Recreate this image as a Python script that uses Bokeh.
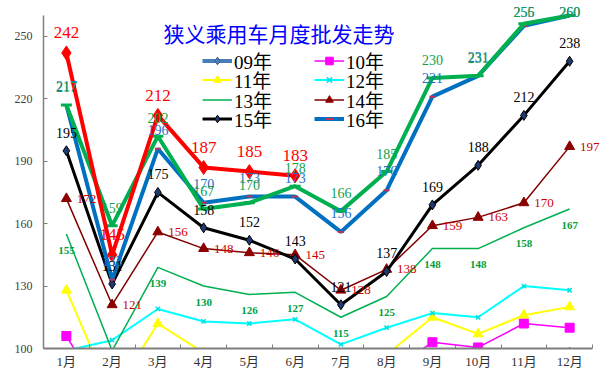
from bokeh.plotting import figure
from bokeh.models import (ColumnDataSource, Legend, LegendItem,
                          FixedTicker, Label, Range1d)
from bokeh.embed import file_html
from bokeh.resources import INLINE

months = ["1月", "2月", "3月", "4月", "5月", "6月",
          "7月", "8月", "9月", "10月", "11月", "12月"]
y_ticks = [100, 130, 160, 190, 220, 250]

y09 = [59, 62, 77, 80, 77, 83, 80, 81, 95, 96, 94, 98]
y10 = [106, 70, 90, 85, 82, 82, 75, 88, 103, 100.5, 112, 110]
y11 = [128, 77, 112, 98, 95, 94, 88, 97, 115, 107, 116, 120]
y12 = [99, 104, 119, 113, 112, 114, 102, 110, 117, 115, 130, 128]
y13 = [155, 99, 139, 130, 126, 127, 115, 125, 148, 148, 158, 167]
y14 = [172, 121, 156, 148, 146, 145, 128, 138, 159, 163, 170, 197]
y15 = [195, 131, 175, 158, 152, 143, 121, 137, 169, 188, 212, 238]
y16 = [217, 133, 196, 170, 173, 173, 156, 176, 221, 231, 255, 260]
y_green = [217, 159, 202, 167, 170, 178, 166, 185, 230, 231, 256, 260]
y_red = [242, 145, 212, 187, 185, 183]

xs = list(range(1, len(months) + 1))
Y_MIN, Y_MAX = 100, 260
X_MIN, X_MAX = 0.5, len(months) + 0.5

SERIF = "Liberation Serif, Noto Sans CJK SC"

# layout (pixels): visible axes span x 43..592, y 15..348
W, H = 606, 371
AX_L, AX_R, AX_T, AX_B = 43, 592, 15, 348
BL, BR, BT, BB = AX_L, 6, 3, H - AX_B
PX_X = (AX_R - AX_L) / (X_MAX - X_MIN)
PX_Y = (AX_B - AX_T) / (Y_MAX - Y_MIN)
# the frame is a little larger than the axes, so that labels are not clipped
x_hi = X_MAX + ((W - BR) - AX_R) / PX_X
y_hi = Y_MAX + (AX_T - BT) / PX_Y

p = figure(width=W, height=H, x_range=Range1d(X_MIN, x_hi),
           y_range=Range1d(Y_MIN, y_hi), output_backend="svg",
           toolbar_location=None, min_border_left=BL, min_border_right=BR,
           min_border_top=BT, min_border_bottom=BB)
p.outline_line_color = None
p.xgrid.visible = False
p.ygrid.visible = False
p.background_fill_color = "white"

# axes
p.xaxis.bounds = (X_MIN, X_MAX)
p.xaxis.ticker = FixedTicker(ticks=xs, minor_ticks=[i + 0.5 for i in range(0, 13)])
p.xaxis.major_label_overrides = {x: m for x, m in zip(xs, months)}
p.xaxis.major_tick_in = 0
p.xaxis.major_tick_out = 0
p.xaxis.minor_tick_in = 4
p.xaxis.minor_tick_out = 0
p.xaxis.minor_tick_line_color = "#7f7f7f"
p.xaxis.axis_line_color = "#7f7f7f"
p.xaxis.axis_line_width = 2
p.xaxis.major_label_standoff = 5
p.xaxis.major_label_text_font = SERIF
p.xaxis.major_label_text_font_size = "13px"
p.xaxis.major_label_text_color = "#333333"

p.yaxis.bounds = (Y_MIN, Y_MAX)
p.yaxis.ticker = FixedTicker(ticks=y_ticks, minor_ticks=[])
p.yaxis.major_tick_in = 4
p.yaxis.major_tick_out = 0
p.yaxis.major_tick_line_color = "#7f7f7f"
p.yaxis.axis_line_color = "#7f7f7f"
p.yaxis.axis_line_width = 1.5
p.yaxis.major_label_standoff = 11
p.yaxis.major_label_text_font = SERIF
p.yaxis.major_label_text_font_size = "12px"
p.yaxis.major_label_text_color = "#404040"


def src(ys):
    return ColumnDataSource(dict(x=xs[:len(ys)], y=ys))


s09, s10, s11, s12 = src(y09), src(y10), src(y11), src(y12)
s13, s14, s15, s16 = src(y13), src(y14), src(y15), src(y16)
sg, sr = src(y_green), src(y_red)

# 09
l09 = p.line("x", "y", source=s09, line_color="#4a7ebb", line_width=4)
m09 = p.scatter("x", "y", source=s09, marker="diamond", size=11,
                fill_color="#4f81bd", line_color="#385d8a")
# 10
l10 = p.line("x", "y", source=s10, line_color="#ff00ff", line_width=1.5)
m10 = p.scatter("x", "y", source=s10, marker="square", size=9,
                fill_color="#ff00ff", line_color="#ff00ff")
# 11
l11 = p.line("x", "y", source=s11, line_color="#ffff00", line_width=2)
m11 = p.scatter("x", "y", source=s11, marker="triangle", size=10,
                fill_color="#ffff00", line_color="#ffff00")
# 12
l12 = p.line("x", "y", source=s12, line_color="#00ffff", line_width=2)
m12 = p.scatter("x", "y", source=s12, marker="x", size=6,
                line_color="#00e0e0", line_width=1.5)
# 13
l13 = p.line("x", "y", source=s13, line_color="#00b050", line_width=1.5)
# 14
l14 = p.line("x", "y", source=s14, line_color="#800000", line_width=1.5)
m14 = p.scatter("x", "y", source=s14, marker="triangle", size=10,
                fill_color="#8b0000", line_color="#8b0000")
# 15
l15 = p.line("x", "y", source=s15, line_color="black", line_width=3)
m15 = p.scatter("x", "y", source=s15, marker="diamond", size=10,
                fill_color="#1f3a6e", line_color="black", line_width=1)
# 16
l16 = p.line("x", "y", source=s16, line_color="#0070c0", line_width=4)
m16 = p.scatter("x", "y", source=s16, marker="dash", size=6,
                line_color="#c0305a", line_width=2)
# green thick
lg = p.line("x", "y", source=sg, line_color="#00b050", line_width=4)
mg = p.scatter("x", "y", source=sg, marker="dash", size=11,
               line_color="#00b050", line_width=3)
# red thick
lr = p.line("x", "y", source=sr, line_color="#ff0000", line_width=4)
mr = p.scatter("x", "y", source=sr, marker="diamond", size=14,
               fill_color="#ff0000", line_color="#ff0000")


# data labels
def labels(ys, color, size, xoff=0, above=18, style="normal", below=None):
    for x, v in zip(xs, ys):
        if v < Y_MIN:
            continue
        if below is not None:
            yoff = -below
        else:
            yoff = min(above, (Y_MAX - v) * PX_Y + 4)
        p.add_layout(Label(x=x, y=v, text=str(int(round(v))),
                           x_offset=xoff, y_offset=yoff,
                           text_align="center", text_baseline="middle",
                           text_color=color, text_font_size=size,
                           text_font=SERIF, text_font_style=style))


labels(y13, "#00a040", "11px", style="bold", below=16)
labels(y14, "#cc0000", "13px", xoff=20, above=0)
labels(y15, "black", "14px", above=18)
labels(y16, "#1f6fc8", "14px", above=19)
labels(y_green, "#14a048", "14px", above=18)
labels(y_red, "#ff0000", "17px", above=20)

# legend: four rows of two entries
rows = [
    [("09年", [l09, m09]), ("10年", [l10, m10])],
    [("11年", [l11, m11]), ("12年", [l12, m12])],
    [("13年", [l13]), ("14年", [l14, m14])],
    [("15年", [l15, m15]), ("16年", [l16, m16])],
]
row_centers = [61, 80, 100, 119]  # screen px from top
LEG_H = 25
for row, c in zip(rows, row_centers):
    vy = AX_B - c - LEG_H / 2
    leg = Legend(items=[LegendItem(label=lab, renderers=r) for lab, r in row],
                 orientation="horizontal", location=(202 - BL, vy),
                 glyph_width=30, glyph_height=19, label_height=19,
                 label_width=80, spacing=0, padding=0, margin=0,
                 label_standoff=2, background_fill_alpha=0,
                 border_line_alpha=0, label_text_font=SERIF,
                 label_text_font_size="19px", label_text_color="black")
    p.add_layout(leg)

title = Label(x=5.65, y=251.4, text="狭义乘用车月度批发走势",
              text_align="center", text_baseline="middle",
              text_color="#0000ff", text_font_size="21px",
              text_font="Noto Sans CJK SC")
p.add_layout(title)

open("out.html", "w").write(file_html(p, INLINE))
